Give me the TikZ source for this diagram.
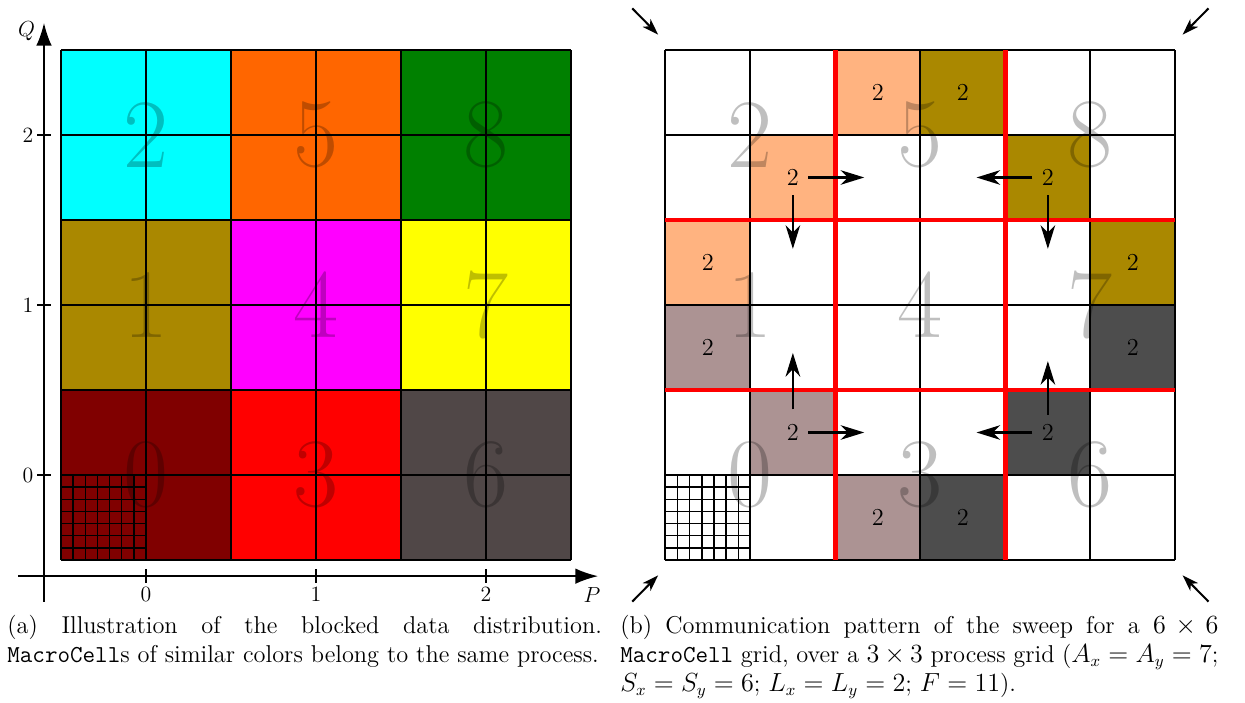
\documentclass[tikz,border=0pt]{standalone}
\usepackage{tikz}
\usetikzlibrary{arrows.meta}

\definecolor{procmaroon}{RGB}{128,0,0}
\definecolor{procolive}{RGB}{170,136,0}
\definecolor{proccyan}{RGB}{0,255,255}
\definecolor{procred}{RGB}{255,0,0}
\definecolor{procmagenta}{RGB}{255,0,255}
\definecolor{procorange}{RGB}{255,102,0}
\definecolor{procslate}{RGB}{80,71,71}
\definecolor{procyellow}{RGB}{255,255,0}
\definecolor{procgreen}{RGB}{0,128,0}
\definecolor{halopeach}{RGB}{255,179,128}
\definecolor{halomauve}{RGB}{172,147,147}
\definecolor{halogray}{RGB}{77,77,77}

\newcommand{\capfont}{\fontsize{13.4}{16}\selectfont\tolerance=10000}
\newcommand{\tickfont}{\fontsize{11.5}{13.8}\selectfont}

\tikzset{
  cellgrid/.style={line width=1pt},
  finegrid/.style={line width=0.8pt},
  bignum/.style={font=\fontsize{54}{60}\selectfont, text=black, text opacity=0.25, inner sep=0pt},
  haloval/.style={font=\capfont, inner sep=2pt},
  ticklabel/.style={font=\tickfont, inner sep=1pt},
  sendarrow/.style={line width=1.3pt, -{Stealth[length=13pt,width=8pt,inset=4pt]}, shorten <=3pt, shorten >=7.5pt},
  cornerarrow/.style={line width=1.1pt, -{Stealth[length=9pt,width=6pt,inset=2.5pt]}},
  axisline/.style={line width=1.1pt, -{Latex[length=12.5pt,width=8.5pt]}},
  splitline/.style={red, line width=2.4pt},
  captext/.style={font=\capfont, inner sep=0pt, anchor=north west, align=justify},
}

\begin{document}
\begin{tikzpicture}[x=46.75pt, y=46.75pt]
\useasboundingbox (-0.7176,-1.6706) rectangle (13.929,6.588);

% (a) blocked distribution
\foreach \p/\q/\col in {
    0/0/procmaroon, 0/1/procolive, 0/2/proccyan,
    1/0/procred, 1/1/procmagenta, 1/2/procorange,
    2/0/procslate, 2/1/procyellow, 2/2/procgreen} {
    \fill[\col] (2*\p,2*\q) rectangle ++(2,2);
}
\foreach \i in {0,...,6} {
    \draw[cellgrid] (\i,0) -- (\i,6);
    \draw[cellgrid] (0,\i) -- (6,\i);
}
\foreach \i in {1,...,6} {
    \draw[finegrid] (\i/7,0) -- (\i/7,1);
    \draw[finegrid] (0,\i/7) -- (1,\i/7);
}
\foreach \p/\q/\num in {0/0/0, 0/1/1, 0/2/2, 1/0/3, 1/1/4, 1/2/5, 2/0/6, 2/1/7, 2/2/8} {
    \node[bignum] (blk-\num) at (2*\p+1,2*\q+1) {\num};
}

% Axes
\coordinate (p-start) at (-0.5,-0.19);
\coordinate (p-end) at (6.32,-0.19);
\coordinate (q-start) at (-0.2,-0.494);
\coordinate (q-end) at (-0.2,6.32);
\draw[axisline] (p-start) -- (p-end);
\draw[axisline] (q-start) -- (q-end);
\node[ticklabel] (p-label) at (6.247,-0.41) {$P$};
\node[ticklabel] (q-label) at (-0.404,6.227) {$Q$};
\foreach \t in {0,1,2} {
    \draw[line width=1.1pt] (2*\t+1,-0.27) -- (2*\t+1,-0.11);
    \node[ticklabel] (ptick-\t) at (2*\t+1,-0.41) {$\t$};
    \draw[line width=1.1pt] (-0.28,2*\t+1) -- (-0.12,2*\t+1);
    \node[ticklabel] (qtick-\t) at (-0.39,2*\t+1) {$\t$};
}

% (b) sweep communication
\begin{scope}[shift={(7.11,0)}]
\foreach \c in {0,...,5} {
    \foreach \r in {0,...,5} {
        \coordinate (cell-\c-\r) at (\c+0.5,\r+0.5);
    }
}
\foreach \c/\r/\col in {
    2/5/halopeach, 1/4/halopeach, 0/3/halopeach,
    3/5/procolive, 4/4/procolive, 5/3/procolive,
    0/2/halomauve, 1/1/halomauve, 2/0/halomauve,
    5/2/halogray, 4/1/halogray, 3/0/halogray} {
    \fill[\col] (\c,\r) rectangle ++(1,1);
    \node[haloval] (val-\c-\r) at (cell-\c-\r) {2};
}
\foreach \i in {0,...,6} {
    \draw[cellgrid] (\i,0) -- (\i,6);
    \draw[cellgrid] (0,\i) -- (6,\i);
}
\foreach \i in {1,...,6} {
    \draw[finegrid] (\i/7,0) -- (\i/7,1);
    \draw[finegrid] (0,\i/7) -- (1,\i/7);
}
\foreach \p/\q/\num in {0/0/0, 0/1/1, 0/2/2, 1/0/3, 1/1/4, 1/2/5, 2/0/6, 2/1/7, 2/2/8} {
    \node[bignum] (prc-\num) at (2*\p+1,2*\q+1) {\num};
}
\draw[splitline] (2,0) -- (2,6);
\draw[splitline] (4,0) -- (4,6);
\draw[splitline] (0,2) -- (6,2);
\draw[splitline] (0,4) -- (6,4);

% Halo sends
\draw[sendarrow] (val-1-4) -- (cell-2-4);
\draw[sendarrow] (val-1-4) -- (cell-1-3);
\draw[sendarrow] (val-4-4) -- (cell-3-4);
\draw[sendarrow] (val-4-4) -- (cell-4-3);
\draw[sendarrow] (val-1-1) -- (cell-2-1);
\draw[sendarrow, shorten <=6pt, shorten >=3pt] (val-1-1) -- (cell-1-2);
\draw[sendarrow] (val-4-1) -- (cell-3-1);
\draw[sendarrow] (val-4-1) -- (cell-4-2);

% Sweep directions
\foreach \name/\sx/\sy/\cx/\cy in {nw/-1/1/0/6, ne/1/1/6/6, sw/-1/-1/0/0, se/1/-1/6/0} {
    \coordinate (\name-tail) at (\cx+\sx*0.39,\cy+\sy*0.49);
    \coordinate (\name-tip) at (\cx+\sx*0.085,\cy+\sy*0.18);
    \draw[cornerarrow] (\name-tail) -- (\name-tip);
}
\end{scope}

% Captions
\node[captext, text width=327pt] (cap-a) at (-0.635,-0.647)
    {(a) Illustration of the blocked data distribution.\linebreak
     \mbox{\texttt{MacroCell}s of similar colors belong to the same process.}};
\node[captext, text width=329pt] (cap-b) at (6.576,-0.647)
    {(b) Communication pattern of the sweep for a $6 \times 6$\linebreak
     \texttt{MacroCell} grid, over a $3 \times 3$ process grid ($A_x = A_y = 7$;\linebreak
     $S_x = S_y = 6$; $L_x = L_y = 2$; $F = 11$).};
\end{tikzpicture}
\end{document}
